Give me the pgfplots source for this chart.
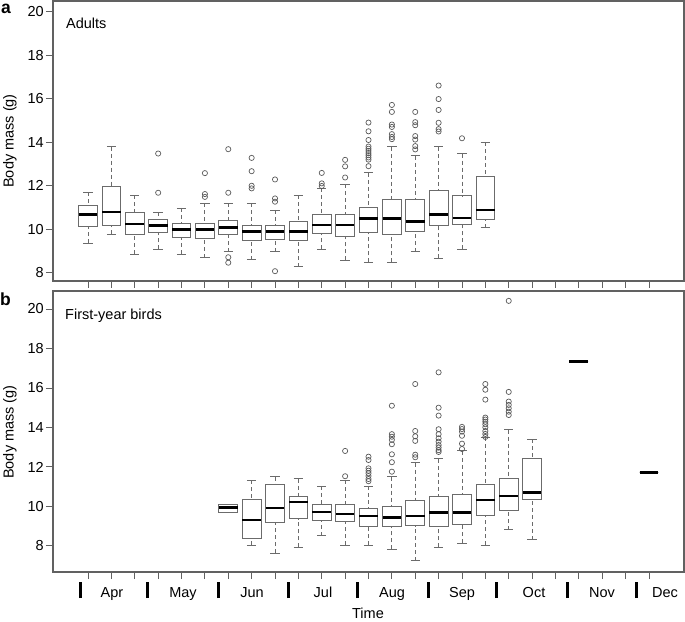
\documentclass[border=0pt]{standalone}
\usepackage{pgfplots}
\pgfplotsset{compat=1.18}
\usepgfplotslibrary{statistics}
\usepackage{fontspec}
\setmainfont{Liberation Sans}

\definecolor{framegray}{gray}{0.38}
\definecolor{boxgray}{gray}{0.42}
\definecolor{ptgray}{gray}{0.35}

\pgfplotsset{
  bx/.style={draw=boxgray, line width=0.9pt, mark=o, mark size=2.6pt,
    mark options={draw=ptgray, line width=0.7pt, solid},
    boxplot/draw direction=y,
    boxplot/box extend=0.8, boxplot/whisker extend=0.4,
    boxplot/every median/.style={draw=black, line width=2.6pt},
    boxplot/draw/lower whisker/.code={%
      \draw[draw=boxgray, line width=0.9pt, dash pattern=on 4pt off 3pt]
        (boxplot box cs:\pgfplotsboxplotvalue{lower whisker},0.5) --
        (boxplot box cs:\pgfplotsboxplotvalue{lower quartile},0.5);
      \draw[draw=boxgray, line width=0.9pt]
        (boxplot whisker cs:\pgfplotsboxplotvalue{lower whisker},0) --
        (boxplot whisker cs:\pgfplotsboxplotvalue{lower whisker},1);
    },
    boxplot/draw/upper whisker/.code={%
      \draw[draw=boxgray, line width=0.9pt, dash pattern=on 4pt off 3pt]
        (boxplot box cs:\pgfplotsboxplotvalue{upper whisker},0.5) --
        (boxplot box cs:\pgfplotsboxplotvalue{upper quartile},0.5);
      \draw[draw=boxgray, line width=0.9pt]
        (boxplot whisker cs:\pgfplotsboxplotvalue{upper whisker},0) --
        (boxplot whisker cs:\pgfplotsboxplotvalue{upper whisker},1);
    },
  },
  panel/.style={
    scale only axis, width=631pt, anchor=south west,
    xmin=-0.5, xmax=26.5, xtick={1,...,25}, xticklabels={},
    ytick={8,10,...,20},
    tick align=outside, major tick length=7pt,
    xtick pos=bottom, ytick pos=left,
    axis line style={draw=framegray, line width=1.1pt},
    tick style={draw=framegray, line width=0.9pt},
    tick label style={font=\fontsize{14.5}{17}\selectfont},
    yticklabel style={inner sep=2pt},
    /pgf/number format/assume math mode=true,
    clip=false,
  },
}

\newcommand{\bx}[7]{\addplot[bx, boxplot prepared={draw position=#1,
  lower whisker=#2, lower quartile=#3, median=#4, upper quartile=#5,
  upper whisker=#6}] coordinates {#7};}

\begin{document}
\begin{tikzpicture}
\useasboundingbox (0,0) rectangle (685pt,621pt);

% ---------- panel a: adults ----------
\begin{axis}[panel, at={(53pt,340pt)}, height=280pt, ymin=7.63, ymax=20.48]
\bx{1}{9.37}{10.12}{10.69}{11.08}{11.70}{}
\bx{2}{9.77}{10.18}{10.79}{11.99}{13.80}{}
\bx{3}{8.87}{9.77}{10.24}{10.79}{11.57}{}
\bx{4}{9.08}{9.88}{10.18}{10.47}{10.79}{(0,13.48)(0,11.68)}
\bx{5}{8.87}{9.62}{10.00}{10.28}{10.98}{}
\bx{6}{8.69}{9.59}{10.00}{10.28}{11.19}{(0,12.58)(0,11.62)(0,11.49)}
\bx{7}{8.98}{9.77}{10.09}{10.43}{11.19}{(0,13.68)(0,11.68)(0,8.72)(0,8.47)}
\bx{8}{8.60}{9.47}{9.89}{10.18}{11.19}{(0,13.28)(0,12.67)(0,12.00)(0,11.88)}
\bx{9}{8.98}{9.54}{9.89}{10.18}{10.89}{(0,12.29)(0,11.42)(0,11.27)(0,8.08)}
\bx{10}{8.29}{9.47}{9.89}{10.38}{11.57}{}
\bx{11}{9.08}{9.83}{10.20}{10.69}{11.89}{(0,12.59)(0,12.11)(0,11.99)}
\bx{12}{8.58}{9.68}{10.20}{10.69}{12.08}{(0,13.19)(0,12.89)(0,12.38)}
\bx{13}{8.49}{9.86}{10.49}{10.99}{12.59}{(0,14.90)(0,14.50)(0,14.10)(0,13.80)(0,13.70)(0,13.60)(0,13.50)(0,13.40)(0,13.30)(0,13.20)(0,12.90)}
\bx{14}{8.49}{9.77}{10.49}{11.38}{13.79}{(0,15.71)(0,15.39)(0,14.81)(0,14.70)(0,14.37)(0,14.24)(0,14.14)}
\bx{15}{8.98}{9.91}{10.37}{11.38}{13.37}{(0,15.39)(0,14.92)(0,14.78)(0,14.28)(0,14.12)(0,13.82)(0,13.67)}
\bx{16}{8.67}{10.18}{10.69}{11.80}{13.79}{(0,16.60)(0,15.98)(0,15.48)(0,14.89)(0,14.60)(0,14.49)}
\bx{17}{9.08}{10.23}{10.53}{11.54}{13.47}{(0,14.18)}
\bx{18}{10.08}{10.47}{10.89}{12.43}{13.99}{}
\end{axis}

% ---------- panel b: first-year birds ----------
\begin{axis}[panel, at={(53pt,49pt)}, height=281pt, ymin=6.68, ymax=20.91]
\bx{7}{9.72}{9.72}{9.94}{10.09}{10.09}{}
\bx{8}{8.04}{8.39}{9.32}{10.33}{11.33}{}
\bx{9}{7.63}{9.20}{9.92}{11.12}{11.51}{}
\bx{10}{7.93}{9.37}{10.23}{10.52}{11.41}{}
\bx{11}{8.52}{9.30}{9.72}{10.11}{11.02}{}
\bx{12}{8.04}{9.22}{9.62}{10.11}{11.33}{(0,12.81)(0,11.53)}
\bx{13}{8.04}{9.01}{9.52}{9.91}{11.02}{(0,12.52)(0,12.35)(0,11.93)(0,11.81)(0,11.68)(0,11.54)(0,11.39)(0,11.28)}
\bx{14}{7.83}{9.01}{9.44}{10.01}{11.51}{(0,15.10)(0,13.66)(0,13.53)(0,13.37)(0,13.15)(0,12.64)(0,12.24)(0,11.76)}
\bx{15}{7.24}{9.03}{9.52}{10.29}{12.22}{(0,16.20)(0,13.82)(0,13.55)(0,13.32)(0,12.62)(0,12.49)}
\bx{16}{7.93}{9.01}{9.70}{10.52}{12.41}{(0,16.79)(0,15.00)(0,14.60)(0,13.91)(0,13.66)(0,13.45)(0,13.28)(0,13.11)(0,12.98)(0,12.85)(0,12.76)}
\bx{17}{8.14}{9.10}{9.70}{10.62}{12.81}{(0,14.03)(0,13.92)(0,13.79)(0,13.58)(0,13.18)(0,12.91)}
\bx{18}{8.04}{9.52}{10.33}{11.10}{13.50}{(0,16.20)(0,15.91)(0,15.41)(0,14.50)(0,14.40)(0,14.29)(0,14.16)(0,14.01)(0,13.82)(0,13.67)(0,13.52)}
\bx{19}{8.81}{9.81}{10.52}{11.43}{13.89}{(0,20.41)(0,15.80)(0,15.31)(0,15.14)(0,14.97)(0,14.80)(0,14.63)}
\bx{20}{8.32}{10.36}{10.72}{12.41}{13.40}{}
\bx{22}{17.33}{17.33}{17.33}{17.33}{17.33}{}
\bx{25}{11.71}{11.71}{11.71}{11.71}{11.71}{}
\end{axis}

% ---------- texts ----------
\begin{scope}[font=\fontsize{14.5}{17}\selectfont]
\node[anchor=base, rotate=90] at (13.5pt,480pt) {Body mass (g)};
\node[anchor=base, rotate=90] at (13.5pt,189pt) {Body mass (g)};
\node[anchor=base west, inner sep=0pt] at (66pt,592.7pt) {Adults};
\node[anchor=base west, inner sep=0pt] at (65pt,301pt) {First-year birds};
\node[anchor=base, inner sep=0pt] at (368pt,3pt) {Time};
\foreach \x/\m in {112/Apr,183/May,252/Jun,323/Jul,392/Aug,462/Sep,534/Oct,602/Nov,665/Dec}
  \node[anchor=base, inner sep=0pt] at (\x pt,24pt) {\m};
\end{scope}
\foreach \x in {80,147,218,288,357,428,496,567,636}
  \draw[line width=3pt] (\x pt,23pt) -- (\x pt,39pt);
\node[anchor=base west, inner sep=0pt, font=\fontsize{17.5}{20}\selectfont\bfseries] at (1pt,607.5pt) {a};
\node[anchor=base west, inner sep=0pt, font=\fontsize{17.5}{20}\selectfont\bfseries] at (0pt,315pt) {b};
\end{tikzpicture}
\end{document}
